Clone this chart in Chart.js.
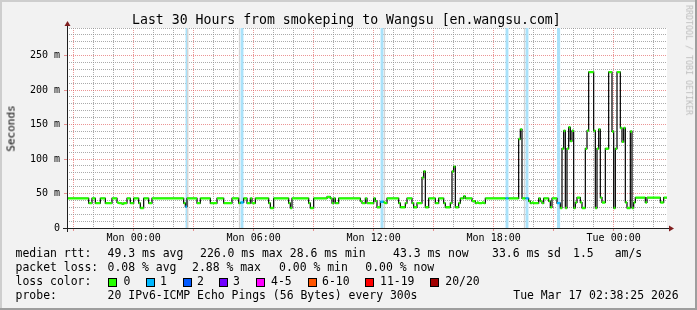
<!DOCTYPE html>
<html><head><meta charset="utf-8">
<script src="https://cdn.jsdelivr.net/npm/chart.js@4.4.1/dist/chart.umd.min.js"></script>
<style>
html,body{margin:0;padding:0;background:#f2f2f2;overflow:hidden}
#wrap{position:relative;width:697px;height:310px}
#c{position:absolute;left:0;top:0;width:697px;height:310px}
.t{position:absolute;font-family:"DejaVu Sans Mono",monospace;color:#000;white-space:pre;line-height:1}
.lg{font-size:11.45px;height:11.45px}
.box{position:absolute;width:7px;height:7px;border:1px solid #000}
</style></head><body>
<div id="wrap">
<canvas id="c" width="697" height="310"></canvas>
<div class="t" style="left:132px;top:12.6px;font-size:13.2px">Last 30 Hours from smokeping to Wangsu [en.wangsu.com]</div>
<div class="t" style="left:-19px;top:122.5px;width:60px;height:11px;font-size:11px;text-align:center;transform:rotate(-90deg)">Seconds</div>
<div class="t" style="left:629px;top:56px;width:120px;height:8.3px;font-size:8.3px;text-align:center;color:#bdbdbd;transform:rotate(90deg)">RRDTOOL / TOBI OETIKER</div>

<div class="t lg" style="left:15.6px;top:248.3px">median rtt:</div>
<div class="t lg" style="left:107.6px;top:248.3px">49.3 ms avg</div>
<div class="t lg" style="left:200px;top:248.3px">226.0 ms max</div>
<div class="t lg" style="left:289.8px;top:248.3px">28.6 ms min</div>
<div class="t lg" style="left:393px;top:248.3px">43.3 ms now</div>
<div class="t lg" style="left:492px;top:248.3px">33.6 ms sd</div>
<div class="t lg" style="left:573px;top:248.3px">1.5</div>
<div class="t lg" style="left:614.7px;top:248.3px">am/s</div>

<div class="t lg" style="left:15.6px;top:262.3px">packet loss:</div>
<div class="t lg" style="left:107.6px;top:262.3px">0.08 % avg</div>
<div class="t lg" style="left:192px;top:262.3px">2.88 % max</div>
<div class="t lg" style="left:279px;top:262.3px">0.00 % min</div>
<div class="t lg" style="left:365.3px;top:262.3px">0.00 % now</div>

<div class="t lg" style="left:15.6px;top:276.3px">loss color:</div>
<div class="box" style="left:108px;top:278px;background:#26ff00"></div>
<div class="t lg" style="left:123.6px;top:276.3px">0</div>
<div class="box" style="left:145.8px;top:278px;background:#00b8ff"></div>
<div class="t lg" style="left:160px;top:276.3px">1</div>
<div class="box" style="left:182.7px;top:278px;background:#0059ff"></div>
<div class="t lg" style="left:196.9px;top:276.3px">2</div>
<div class="box" style="left:219px;top:278px;background:#7000ff"></div>
<div class="t lg" style="left:233px;top:276.3px">3</div>
<div class="box" style="left:256px;top:278px;background:#ff00ff"></div>
<div class="t lg" style="left:271px;top:276.3px">4-5</div>
<div class="box" style="left:307.6px;top:278px;background:#ff5500"></div>
<div class="t lg" style="left:322px;top:276.3px">6-10</div>
<div class="box" style="left:365.3px;top:278px;background:#ff0000"></div>
<div class="t lg" style="left:380px;top:276.3px">11-19</div>
<div class="box" style="left:430px;top:278px;background:#a10000"></div>
<div class="t lg" style="left:445.3px;top:276.3px">20/20</div>

<div class="t lg" style="left:15.6px;top:290.3px">probe:</div>
<div class="t lg" style="left:107.6px;top:290.3px">20 IPv6-ICMP Echo Pings (56 Bytes) every 300s</div>
<div class="t lg" style="left:513.3px;top:290.3px">Tue Mar 17 02:38:25 2026</div>
</div>
<script>
// ---- data (minutes relative to Mon 00:00, 5-minute steps) ----
const startMinute = -200;
const stepMinutes = 5;
const yMax = 290;
const medianMs = [
 43,43,43,43,43,43,43,43,43,43,43,43,43, 36,36, 43,43, 36,36,36, 43,43,43, 36,36,36,36, 43,43,43,
 37,36,36,35,36,36, 43,43, 36,36, 43,43,43, 36,29,29, 43,43,43, 36,36,
 43,43,43,43,43,43,43,43,43,43,43,43,43,43,43,43,43,43,43, 36,31,
 43,43,43,43,43,43, 36,36, 43,43,43,43,43,43, 36,36,36,36, 43,43,43,43, 36,36,36,36,36, 43,43,43,43,
 36,37,37, 43,43, 36,36, 43, 36,36, 43,43,43,43,43,43,43,43, 36,29,29, 43,43,43,43,43,43,43,43,43,
 36,29, 43,43,43,43,43,43,43,43,43,43, 36,29,29, 43,43,43,43,43,43,43,43, 45,45, 43, 36, 43, 36,36,
 43,43,43,43,43,43,43,43,43,43,43,43,43, 39, 36,36, 43, 36,36,36,36, 43, 39, 30,30, 38,38, 37,36,
 43,43,43,43,43,43,43, 36, 30,30,30, 36, 43,43,43, 36, 30,30, 36,36,36, 73,82, 30,30, 43,43,43,43,
 36,36, 43,43,43, 36, 30,30,30, 36, 82,89, 30,30, 36, 43,43, 46, 43,43,43,43, 39,39, 36,37,36,36,37,36,
 43,43,43,43,43,43,43,43,43,43,43,43,43,43,43,43,43,43,43,43, 129,143, 43,43,43,43, 39, 36,37,36,36,36,
 43, 39, 36, 43,43,43, 39, 30, 43,43,43, 36,36, 29, 115, 141, 29, 115, 146, 126, 141, 29, 37, 44,44, 37,
 29,29, 115, 141, 226,226,226, 141, 29, 115, 143, 44, 37,37, 115,115, 226,226, 140, 29, 115, 226,226,
 145, 125, 145, 37, 29,29, 140, 29, 37, 44,44,44,44,44,44, 37, 44,44,44,44,44,44,44,44, 37,37, 44,44
];
const lossSteps = [71, 104, 105, 188, 189, 263, 264, 275, 276, 294, 295];
const greySteps = [72, 103, 190, 274];
const xTickMinutes = [0, 360, 720, 1080, 1440];
const xTickLabels = ['Mon 00:00', 'Mon 06:00', 'Mon 12:00', 'Mon 18:00', 'Tue 00:00'];
const yTickValues = [0, 50, 100, 150, 200, 250];
const yTickLabels = ['0', '50 m', '100 m', '150 m', '200 m', '250 m'];

// ---- helpers ----
const t = i => startMinute + i * stepMinutes;
const endMinute = t(medianMs.length);

// horizontal runs (same value) for a set of step indices
function runs(indices, valueOf) {
  const pts = [];
  let k = 0;
  while (k < indices.length) {
    let j = k;
    while (j + 1 < indices.length && indices[j + 1] === indices[j] + 1 && valueOf(indices[j + 1]) === valueOf(indices[k])) j++;
    const v = valueOf(indices[k]);
    pts.push({x: t(indices[k]), y: v}, {x: t(indices[j] + 1), y: v}, {x: t(indices[j] + 1), y: null});
    k = j + 1;
  }
  return pts;
}
const allIdx = medianMs.map((_, i) => i);
const okIdx = allIdx.filter(i => !lossSteps.includes(i));
const blackPts = medianMs.map((v, i) => ({x: t(i), y: v}));
blackPts.push({x: endMinute, y: medianMs[medianMs.length - 1]});

const GRID = 'rgba(143,143,143,0.75)';
const MGRID = 'rgba(222,79,79,0.6)';

const framePlugin = {
  id: 'frame',
  beforeDraw(chart) {
    const {ctx, chartArea: a, width: W, height: H} = chart;
    ctx.save();
    ctx.fillStyle = '#f2f2f2'; ctx.fillRect(0, 0, W, H);
    ctx.fillStyle = '#ffffff'; ctx.fillRect(a.left, a.top, a.right - a.left, a.bottom - a.top);
    ctx.fillStyle = '#cecece'; ctx.fillRect(0, 0, W, 2); ctx.fillRect(0, 0, 2, H);
    ctx.fillStyle = '#9e9e9e'; ctx.fillRect(0, H - 2, W, 2); ctx.fillRect(W - 2, 0, 2, H);
    ctx.restore();
  },
  afterDatasetsDraw(chart) {
    const {ctx, chartArea: a} = chart;
    const L = a.left + 0.5, B = a.bottom + 0.5, R = a.right, T = a.top;
    ctx.save();
    ctx.strokeStyle = '#1f1f1f'; ctx.lineWidth = 1;
    ctx.beginPath();
    ctx.moveTo(a.left - 4, B); ctx.lineTo(R + 4, B);
    ctx.moveTo(L, a.bottom + 4); ctx.lineTo(L, T - 4);
    ctx.stroke();
    ctx.fillStyle = '#801f1f';
    ctx.beginPath(); ctx.moveTo(R + 2, B - 3); ctx.lineTo(R + 2, B + 3); ctx.lineTo(R + 7, B); ctx.closePath(); ctx.fill();
    ctx.beginPath(); ctx.moveTo(L - 3, T - 2); ctx.lineTo(L + 3, T - 2); ctx.lineTo(L, T - 7); ctx.closePath(); ctx.fill();
    ctx.restore();
  }
};

Chart.defaults.font.family = "'DejaVu Sans Mono', monospace";
new Chart(document.getElementById('c'), {
  type: 'line',
  data: {
    datasets: [
      {data: runs(okIdx, i => medianMs[i]), borderColor: '#26ff00', borderWidth: 2.4, pointRadius: 0, spanGaps: false, order: 0, borderCapStyle: 'butt'},
      {data: runs(lossSteps, i => medianMs[i]), borderColor: '#00b8ff', borderWidth: 2.4, pointRadius: 0, spanGaps: false, order: 0, borderCapStyle: 'butt'},
      {data: blackPts, borderColor: '#000000', borderWidth: 1.2, pointRadius: 0, stepped: true, order: 1},
      {data: runs(greySteps, () => yMax), borderWidth: 0, borderColor: 'rgba(0,0,0,0)', backgroundColor: '#d4d4d4', fill: 'origin', pointRadius: 0, spanGaps: false, order: 2},
      {data: runs(lossSteps, () => yMax), borderWidth: 0, borderColor: 'rgba(0,0,0,0)', backgroundColor: '#aae2fa', fill: 'origin', pointRadius: 0, spanGaps: false, order: 3}
    ]
  },
  options: {
    responsive: false, animation: false, events: [],
    layout: {padding: {left: 0, top: 28, right: 30, bottom: 0}},
    plugins: {legend: {display: false}, title: {display: false}, tooltip: {enabled: false}},
    scales: {
      x: {
        type: 'linear', min: startMinute, max: endMinute,
        afterFit: s => { s.height = 82; },
        afterBuildTicks: s => { const a = []; for (let m = Math.ceil(s.min / 60) * 60; m < s.max; m += 60) a.push({value: m}); s.ticks = a; },
        grid: {
          color: c => (c.tick && c.tick.value % 180 === 0) ? MGRID : GRID,
          lineWidth: 1, drawTicks: true, tickLength: 3,
          tickColor: c => (c.tick && c.tick.value % 180 === 0) ? MGRID : 'rgba(0,0,0,0)'
        },
        border: {display: false, dash: [1, 1]},
        ticks: {
          autoSkip: false, maxRotation: 0, minRotation: 0, padding: 1, color: '#000',
          font: {size: 10},
          callback: v => { const k = xTickMinutes.indexOf(v); return k >= 0 ? xTickLabels[k] : ''; }
        }
      },
      y: {
        type: 'linear', min: 0, max: yMax,
        afterFit: s => { s.width = 67; },
        afterBuildTicks: s => { const a = []; for (let v = 0; v <= yMax; v += 10) a.push({value: v}); s.ticks = a; },
        grid: {
          color: c => (c.tick && c.tick.value % 50 === 0) ? MGRID : GRID,
          lineWidth: 1, drawTicks: true, tickLength: 3,
          tickColor: c => (c.tick && c.tick.value % 50 === 0) ? MGRID : 'rgba(0,0,0,0)'
        },
        border: {display: false, dash: [1, 1]},
        ticks: {
          autoSkip: false, padding: 4, color: '#000', font: {size: 10},
          callback: v => { const k = yTickValues.indexOf(v); return k >= 0 ? yTickLabels[k] : ''; }
        }
      }
    }
  },
  plugins: [framePlugin]
});
</script>
</body></html>
